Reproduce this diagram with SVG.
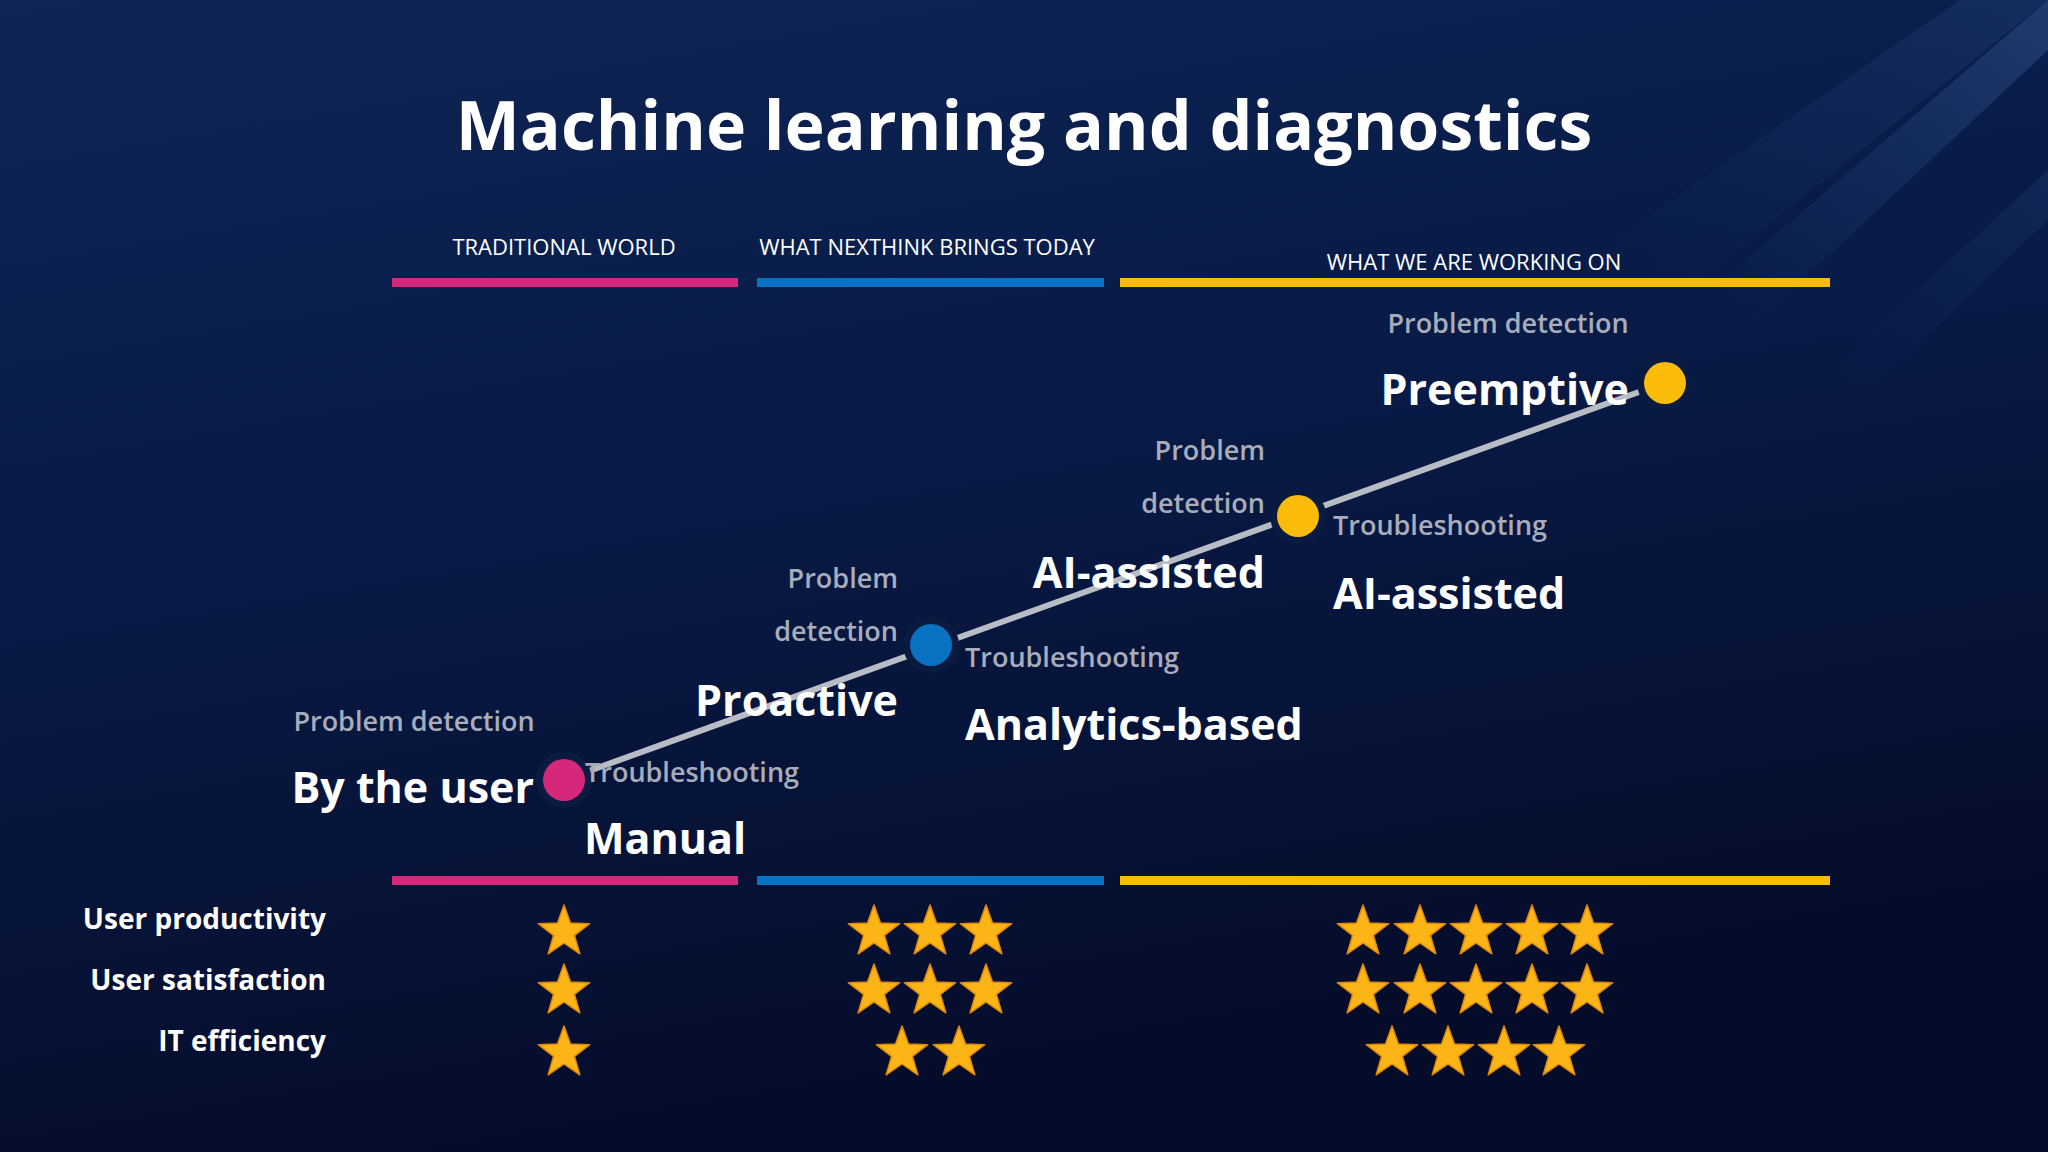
<svg xmlns="http://www.w3.org/2000/svg" width="2048" height="1152" viewBox="0 0 2048 1152">
<defs>
<linearGradient id="bg" x1="0" y1="0" x2="0.3" y2="1">
<stop offset="0" stop-color="#0e2556"/><stop offset="0.5" stop-color="#081a45"/><stop offset="1" stop-color="#050c2a"/>
</linearGradient>
<linearGradient id="streak" x1="0" y1="1" x2="1" y2="0">
<stop offset="0" stop-color="#3d6fb0" stop-opacity="0"/><stop offset="1" stop-color="#5d8fd0" stop-opacity="0.25"/>
</linearGradient>
<polygon id="star" points="0,-27 6.47,-8.9 25.68,-8.34 10.46,3.4 15.87,21.84 0,11 -15.87,21.84 -10.46,3.4 -25.68,-8.34 -6.47,-8.9" fill="#FBB516" stroke="#E08A0A" stroke-width="1.5" stroke-linejoin="round"/>
<style>
.t{font-family:"Open Sans","Liberation Sans",sans-serif}
.g{font-family:"Open Sans","Liberation Sans",sans-serif;font-weight:600;font-size:27px;fill:#A7ADBA}
.w{font-family:"Open Sans","Liberation Sans",sans-serif;font-weight:700;font-size:43px;fill:#fff}
.h{font-family:"Open Sans","Liberation Sans",sans-serif;font-size:22px;fill:#fff}
.m{font-family:"Open Sans","Liberation Sans",sans-serif;font-weight:700;font-size:28px;fill:#fff;text-anchor:end}
.e{text-anchor:end}
.c{text-anchor:middle}
</style>
</defs>
<rect width="2048" height="1152" fill="url(#bg)"/>
<polygon points="1700,300 2048,0 2048,50 1760,320" fill="url(#streak)"/>
<polygon points="1600,250 1960,0 2048,0 1700,280" fill="url(#streak)" opacity="0.5"/>
<polygon points="1820,380 2048,170 2048,220 1870,390" fill="url(#streak)" opacity="0.4"/>
<text class="t c" x="1024" y="150" font-size="68" font-weight="700" fill="#fff">Machine learning and diagnostics</text>
<g id="headers">
<text class="h c" x="564" y="255">TRADITIONAL WORLD</text>
<text class="h c" x="927" y="255">WHAT NEXTHINK BRINGS TODAY</text>
<text class="h c" x="1474" y="270">WHAT WE ARE WORKING ON</text>
<rect x="392" y="278" width="346" height="9" fill="#D6287A"/>
<rect x="757" y="278" width="347" height="9" fill="#0A72C2"/>
<rect x="1120" y="278" width="710" height="9" fill="#FBBB0A"/>
<rect x="392" y="876" width="346" height="9" fill="#D6287A"/>
<rect x="757" y="876" width="347" height="9" fill="#0A72C2"/>
<rect x="1120" y="876" width="710" height="9" fill="#FBBB0A"/>
</g>
<g id="connectors">
<line x1="564" y1="780" x2="1650" y2="388" stroke="#B8BCC4" stroke-width="6"/>
</g>
<g id="n1">
<circle cx="564" cy="780" r="28" fill="#0a1a40"/><circle cx="564" cy="780" r="21" fill="#D6287A"/>
<text class="g c" x="414" y="731">Problem detection</text>
<text class="w e" x="534" y="803">By the user</text>
<text class="g" x="585" y="782">Troubleshooting</text>
<text class="w" x="584" y="854">Manual</text>
</g>
<g id="n2">
<circle cx="931" cy="645" r="28" fill="#0a1a40"/><circle cx="931" cy="645" r="21" fill="#0A72C2"/>
<text class="g e" x="898" y="588">Problem</text>
<text class="g e" x="898" y="641">detection</text>
<text class="w e" x="898" y="716">Proactive</text>
<text class="g" x="965" y="667">Troubleshooting</text>
<text class="w" x="965" y="740">Analytics-based</text>
</g>
<g id="n3">
<circle cx="1298" cy="516" r="28" fill="#0a1a40"/><circle cx="1298" cy="516" r="21" fill="#FBBB0A"/>
<text class="g e" x="1265" y="460">Problem</text>
<text class="g e" x="1265" y="513">detection</text>
<text class="w e" x="1265" y="588">AI-assisted</text>
<text class="g" x="1333" y="535">Troubleshooting</text>
<text class="w" x="1333" y="609">AI-assisted</text>
</g>
<g id="n4">
<circle cx="1665" cy="383" r="28" fill="#0a1a40"/><circle cx="1665" cy="383" r="21" fill="#FBBB0A"/>
<text class="g c" x="1508" y="333">Problem detection</text>
<text class="w e" x="1629" y="405">Preemptive</text>
</g>
<g id="metrics">
<text class="m" x="326" y="929">User productivity</text>
<text class="m" x="326" y="990">User satisfaction</text>
<text class="m" x="326" y="1051">IT efficiency</text>
</g>
<g id="stars">
<use href="#star" x="564" y="932"/><use href="#star" x="564" y="991"/><use href="#star" x="564" y="1053"/>
<use href="#star" x="874" y="932"/><use href="#star" x="930" y="932"/><use href="#star" x="986" y="932"/>
<use href="#star" x="874" y="991"/><use href="#star" x="930" y="991"/><use href="#star" x="986" y="991"/>
<use href="#star" x="902" y="1053"/><use href="#star" x="959" y="1053"/>
<use href="#star" x="1363" y="932"/><use href="#star" x="1420" y="932"/><use href="#star" x="1476" y="932"/><use href="#star" x="1532" y="932"/><use href="#star" x="1587" y="932"/>
<use href="#star" x="1363" y="991"/><use href="#star" x="1420" y="991"/><use href="#star" x="1476" y="991"/><use href="#star" x="1532" y="991"/><use href="#star" x="1587" y="991"/>
<use href="#star" x="1392" y="1053"/><use href="#star" x="1448" y="1053"/><use href="#star" x="1504" y="1053"/><use href="#star" x="1559" y="1053"/>
</g>
</svg>
